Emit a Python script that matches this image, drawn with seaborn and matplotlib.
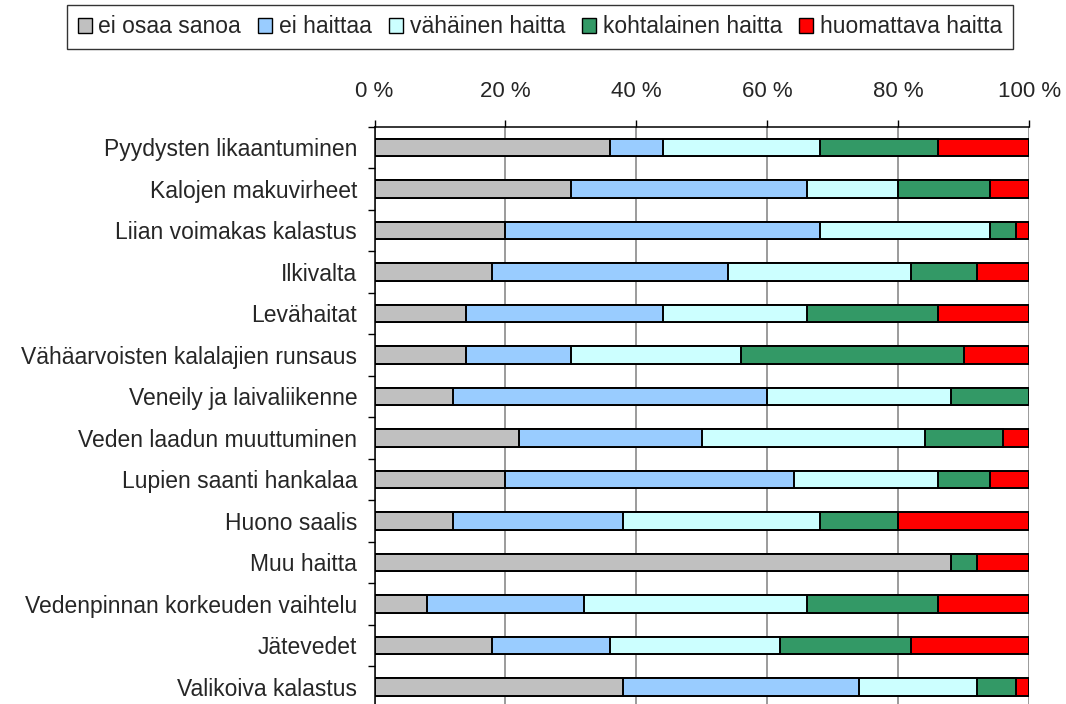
import numpy as np
import pandas as pd
import matplotlib
matplotlib.use("Agg")
import matplotlib.pyplot as plt
from matplotlib.patches import Patch
from matplotlib.ticker import FixedLocator
import seaborn as sns

categories = [
    "Pyydysten likaantuminen",
    "Kalojen makuvirheet",
    "Liian voimakas kalastus",
    "Ilkivalta",
    "Levähaitat",
    "Vähäarvoisten kalalajien runsaus",
    "Veneily ja laivaliikenne",
    "Veden laadun muuttuminen",
    "Lupien saanti hankalaa",
    "Huono saalis",
    "Muu haitta",
    "Vedenpinnan korkeuden vaihtelu",
    "Jätevedet",
    "Valikoiva kalastus",
]
series_names = ["ei osaa sanoa", "ei haittaa", "vähäinen haitta",
                "kohtalainen haitta", "huomattava haitta"]
ei_osaa_sanoa = [36, 30, 20, 18, 14, 14, 12, 22, 20, 12, 88, 8, 18, 38]
ei_haittaa = [8, 36, 48, 36, 30, 16, 48, 28, 44, 26, 0, 24, 18, 36]
vahainen_haitta = [24, 14, 26, 28, 22, 26, 28, 34, 22, 30, 0, 34, 26, 18]
kohtalainen_haitta = [18, 14, 4, 10, 20, 34, 12, 12, 8, 12, 4, 20, 20, 6]
huomattava_haitta = [14, 6, 2, 8, 14, 10, 0, 4, 6, 20, 8, 14, 18, 2]
tick_labels = ["0 %", "20 %", "40 %", "60 %", "80 %", "100 %"]
colors = ["#C0C0C0", "#99CCFF", "#CCFFFF", "#339966", "#FF0000"]

sns.set_style("white")
plt.rcParams["font.family"] = ["Liberation Sans", "DejaVu Sans"]

series = [ei_osaa_sanoa, ei_haittaa, vahainen_haitta, kohtalainen_haitta, huomattava_haitta]
cum = np.cumsum(np.array(series, dtype=float), axis=0)

fig = plt.figure(figsize=(10.66, 7.04), dpi=100)
W, H = 1066, 704
left, right, top, bottom = 374.5, 1029.3, 126.7, 707.7
ax = fig.add_axes([left / W, (H - bottom) / H, (right - left) / W, (bottom - top) / H])

# draw cumulative bars from the largest to the smallest so segments stack
for i in range(len(series) - 1, -1, -1):
    df = pd.DataFrame({"cat": categories, "val": cum[i]})
    sns.barplot(data=df, x="val", y="cat", orient="h", color=colors[i],
                saturation=1, width=0.43, edgecolor="black", linewidth=1.4,
                errorbar=None, ax=ax, zorder=3)

ax.set_xlim(0, 100)
ax.set_ylim(len(categories) - 0.5, -0.5)
ax.set_xlabel("")
ax.set_ylabel("")

ax.xaxis.tick_top()
ax.set_xticks([0, 20, 40, 60, 80, 100])
ax.set_xticklabels(tick_labels, fontsize=16)
ax.tick_params(axis="x", which="major", direction="out", length=5, width=1,
               color="black", pad=13, top=True, bottom=False)
ax.xaxis.grid(True, color="#808080", linewidth=1.1, zorder=0)
ax.yaxis.grid(False)

ax.set_yticks(range(len(categories)))
ax.set_yticklabels(categories, fontsize=16.5)
ax.tick_params(axis="y", which="major", length=0, pad=12.5)
ax.yaxis.set_minor_locator(FixedLocator(np.arange(-0.5, len(categories), 1.0)))
ax.tick_params(axis="y", which="minor", direction="out", length=5, width=1,
               color="black", left=True)

for s in ["right", "bottom"]:
    ax.spines[s].set_visible(False)
for s in ["top", "left"]:
    ax.spines[s].set_visible(True)
    ax.spines[s].set_color("black")
    ax.spines[s].set_linewidth(1.1)

handles = [Patch(facecolor=c, edgecolor="black", linewidth=1.0) for c in colors]
leg = fig.legend(handles, series_names, loc="upper center", ncol=5,
                 bbox_to_anchor=(540 / W, 1 - 5 / H), borderaxespad=0,
                 fontsize=16.5, frameon=True, fancybox=False, shadow=False,
                 handlelength=0.6, handleheight=0.6, handletextpad=0.3,
                 columnspacing=0.75, borderpad=0.45)
leg.get_frame().set_edgecolor("black")
leg.get_frame().set_linewidth(1.0)

fig.savefig("out.png", dpi=100)
